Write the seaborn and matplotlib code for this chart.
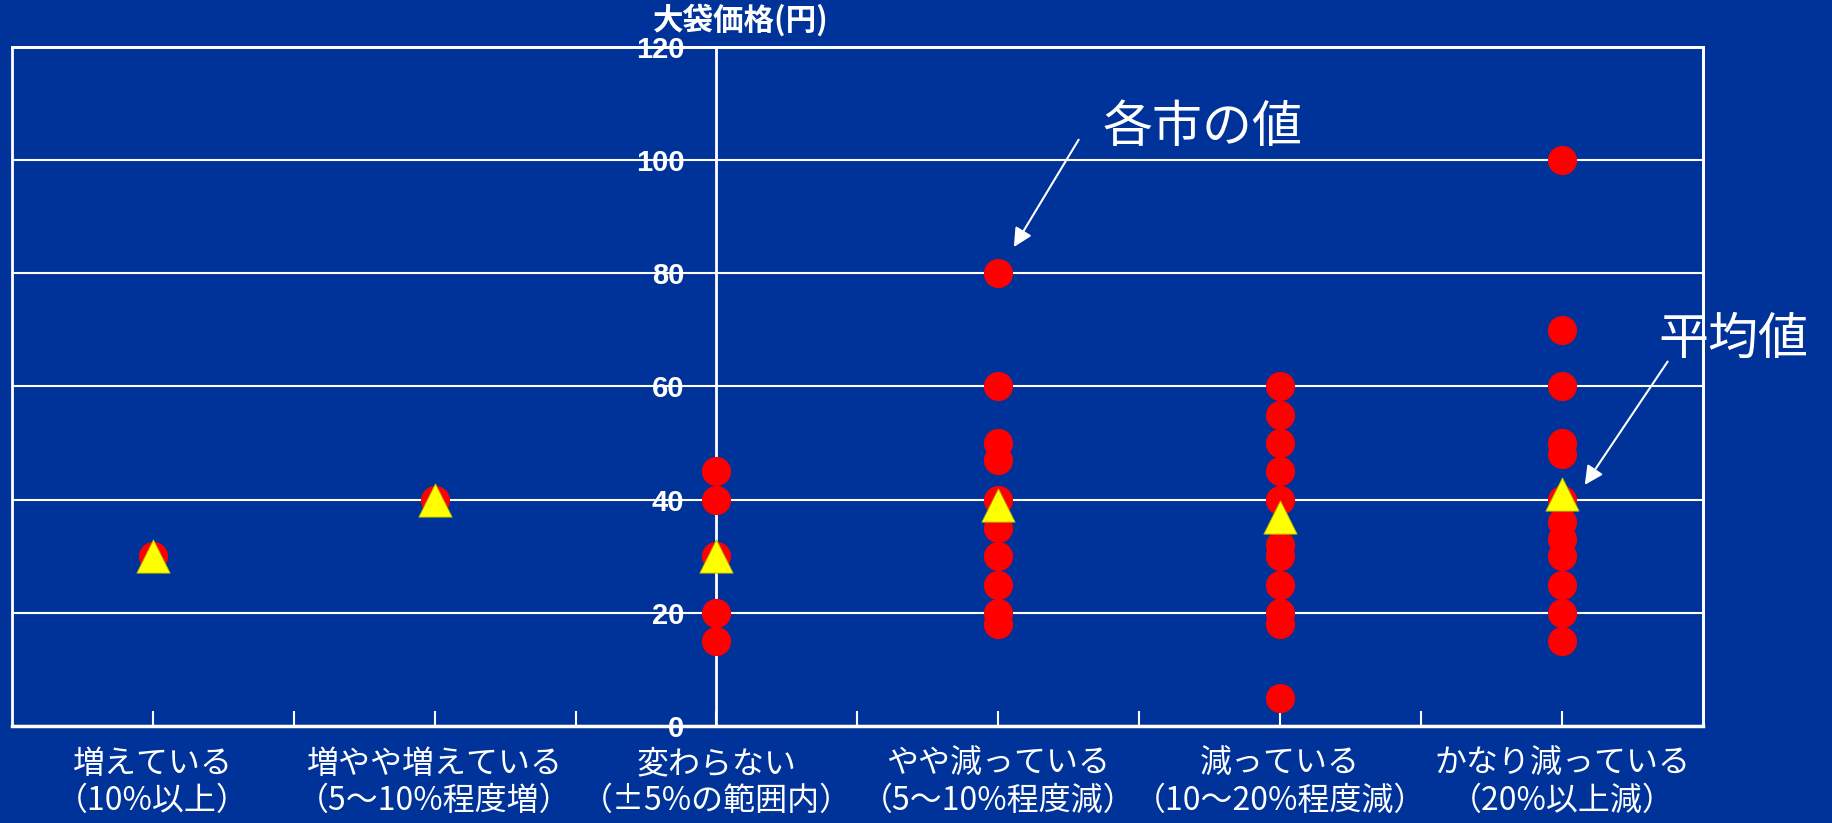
import numpy as np
import pandas as pd
import seaborn as sns
import matplotlib.pyplot as plt

# categories (x) and the per-city values
categories = ['増えている\n（10%以上）',
              '増やや増えている\n（5～10%程度増）',
              '変わらない\n（±5%の範囲内）',
              'やや減っている\n（5～10%程度減）',
              '減っている\n（10～20%程度減）',
              'かなり減っている\n（20%以上減）']
city_inc = [30]
city_slight_inc = [40]
city_same = [45, 40, 30, 20, 15]
city_slight_dec = [80, 60, 50, 47, 40, 35, 30, 25, 20, 18]
city_dec = [60, 55, 50, 45, 40, 32, 30, 25, 20, 18, 5]
city_large_dec = [100, 70, 60, 50, 48, 40, 36, 33, 30, 25, 20, 15]
mean_values = [30, 40, 30, 39, 37, 41]
y_ticks = [0, 20, 40, 60, 80, 100, 120]

bg = '#003399'
plt.rcParams['font.family'] = ['Noto Sans CJK JP', 'DejaVu Sans']

groups = [city_inc, city_slight_inc, city_same, city_slight_dec, city_dec, city_large_dec]
city_df = pd.DataFrame({
    'cat': np.repeat(categories, [len(g) for g in groups]),
    'price': np.concatenate(groups),
})
mean_df = pd.DataFrame({'cat': categories, 'price': mean_values})

fig = plt.figure(figsize=(18.33, 8.23), dpi=100, facecolor=bg)
ax = fig.add_axes([0.0064, 0.1178, 0.9227, 0.8254], facecolor=bg)

sns.stripplot(data=city_df, x='cat', y='price', order=categories, jitter=False,
              color='#ff0000', size=21, linewidth=0, ax=ax, zorder=3, clip_on=False)
sns.stripplot(data=mean_df, x='cat', y='price', order=categories, jitter=False,
              color='#ffff00', marker='^', size=24, linewidth=0.6, edgecolor='#b0b000',
              ax=ax, zorder=4, clip_on=False)

ax.set_xlim(-0.5, 5.5)
ax.set_ylim(0, 120)
ax.set_xlabel('')
ax.set_ylabel('')

# y axis sits on the middle category (set before ticks: it resets them)
ax.spines['left'].set_position(('data', 2))
for sp in ax.spines.values():
    sp.set_color('white')
    sp.set_linewidth(2)
ax.spines['bottom'].set_linewidth(2.5)
ax.add_patch(plt.Rectangle((0, 0), 1, 1, transform=ax.transAxes, fill=False,
                           ec='white', lw=2, clip_on=False, zorder=2.5))

# x axis: labels at categories, small inward ticks every half step
ax.set_xticks(range(len(categories)))
ax.set_xticklabels(categories, fontsize=23, color='white', linespacing=1.2)
ax.set_xticks(np.arange(0.5, len(categories) - 1, 1.0), minor=True)
ax.tick_params(axis='x', which='both', direction='in', length=11, width=1.5,
               color='white', pad=16)

ax.set_yticks(y_ticks)
ax.set_yticklabels([str(v) for v in y_ticks], fontsize=21, fontweight='bold',
                   color='white', fontfamily=['Liberation Sans', 'DejaVu Sans'])
ax.tick_params(axis='y', length=0, pad=23)
ax.yaxis.grid(True, color='white', lw=1.5)
ax.xaxis.grid(False)
ax.set_axisbelow(True)

fig.text(0.404, 0.975, '大袋価格(円)', ha='center', va='center', color='white',
         fontsize=22, fontweight='bold')

# annotations
arrow = dict(arrowstyle='-|>', color='white', lw=1.5, mutation_scale=28)
ax.annotate('', xy=(3.05, 84.2), xytext=(3.29, 104), arrowprops=arrow)
ax.text(3.37, 105.7, '各市の値', color='white', fontsize=36, ha='left', va='center')
ax.annotate('', xy=(5.075, 42.2), xytext=(5.38, 64.8), arrowprops=arrow)
ax.text(5.34, 68.2, '平均値', color='white', fontsize=36, ha='left', va='center')

fig.savefig('out.png', dpi=100, facecolor=bg)
